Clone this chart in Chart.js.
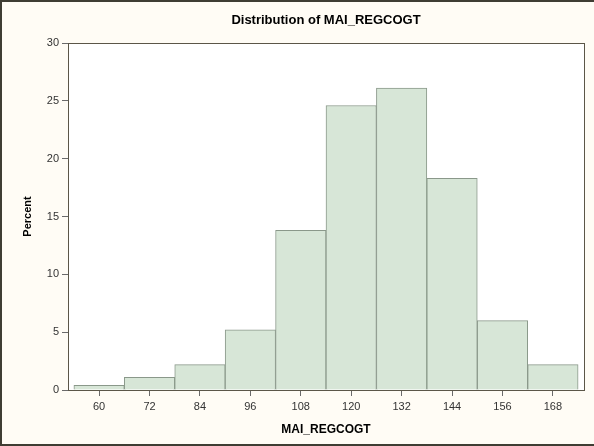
<!DOCTYPE html>
<html>
<head>
<meta charset="utf-8">
<script src="https://cdn.jsdelivr.net/npm/chart.js@4/dist/chart.umd.min.js"></script>
<style>
  html, body { margin: 0; padding: 0; background: #fffcf5; }
  #wrap { width: 594px; height: 446px; position: relative; }
</style>
</head>
<body>
<div id="wrap"><canvas id="c" width="594" height="446"></canvas></div>
<script>
// Histogram bins (midpoints) and the percent of observations in each bin
const binMidpoints = [60, 72, 84, 96, 108, 120, 132, 144, 156, 168];
const percentValues = [0.4, 1.1, 2.2, 5.2, 13.8, 24.6, 26.1, 18.3, 6.0, 2.2];
const xTickValues = [60, 72, 84, 96, 108, 120, 132, 144, 156, 168];
const yTickValues = [0, 5, 10, 15, 20, 25, 30];

const FONT = '"Liberation Sans", Arial, sans-serif';
const FRAME = '#5b5648';

// Cream page, white plot area, and the dark frames around both
const framePlugin = {
  id: 'frames',
  afterLayout(chart) {
    // centre the title over the plot area rather than the whole canvas
    const a = chart.chartArea;
    if (chart.titleBlock) {
      chart.titleBlock.left = a.left;
      chart.titleBlock.right = a.right;
    }
  },
  beforeDraw(chart) {
    const { ctx, chartArea: a, width, height } = chart;
    ctx.save();
    ctx.fillStyle = '#fffcf5';
    ctx.fillRect(0, 0, width, height);
    ctx.fillStyle = '#ffffff';
    ctx.fillRect(a.left, a.top, a.right - a.left, a.bottom - a.top);
    ctx.restore();
  },
  afterDraw(chart) {
    const { ctx, chartArea: a, width, height } = chart;
    ctx.save();
    ctx.strokeStyle = FRAME;
    ctx.lineWidth = 1;
    ctx.strokeRect(Math.round(a.left) + 0.5, Math.round(a.top) + 0.5,
                   Math.round(a.right - a.left), Math.round(a.bottom - a.top));
    ctx.strokeStyle = '#3f3d33';
    ctx.lineWidth = 2;
    ctx.beginPath();
    ctx.moveTo(1, height - 1);
    ctx.lineTo(1, 1);
    ctx.lineTo(width, 1);
    ctx.moveTo(0, height - 1);
    ctx.lineTo(width, height - 1);
    ctx.stroke();
    ctx.restore();
  }
};

new Chart(document.getElementById('c'), {
  type: 'bar',
  data: {
    datasets: [{
      label: 'Percent',
      data: binMidpoints.map((x, i) => ({ x: x, y: percentValues[i] })),
      backgroundColor: '#d7e6d7',
      borderColor: '#8a988a',
      borderWidth: 1,
      barPercentage: 1,
      categoryPercentage: 1
    }]
  },
  options: {
    responsive: false,
    devicePixelRatio: 1,
    animation: false,
    layout: { padding: { left: 0, right: 10, top: 0, bottom: 0 } },
    plugins: {
      legend: { display: false },
      tooltip: { enabled: false },
      title: {
        display: true,
        text: 'Distribution of MAI_REGCOGT',
        color: '#000000',
        font: { family: FONT, size: 13, weight: 'bold' },
        padding: { top: 12.5, bottom: 14.9 }
      }
    },
    scales: {
      x: {
        type: 'linear',
        offset: false,
        min: 52.6,
        max: 175.4,
        afterBuildTicks: s => { s.ticks = xTickValues.map(v => ({ value: v })); },
        afterFit: s => { s.height = 56; },
        border: { display: true, color: FRAME, width: 1 },
        grid: { offset: false, drawOnChartArea: false, drawTicks: true, tickLength: 6, color: '#6a6a6a' },
        ticks: { color: '#333333', font: { family: FONT, size: 11 }, padding: 4, maxRotation: 0 },
        title: {
          display: true,
          text: 'MAI_REGCOGT',
          color: '#000000',
          font: { family: FONT, size: 12, weight: 'bold' },
          padding: { top: 4, bottom: 9 }
        }
      },
      y: {
        min: 0,
        max: 30,
        afterBuildTicks: s => { s.ticks = yTickValues.map(v => ({ value: v })); },
        afterFit: s => { s.width = 68; },
        border: { display: true, color: FRAME, width: 1 },
        grid: { drawOnChartArea: false, drawTicks: true, tickLength: 6, color: '#6a6a6a' },
        ticks: { color: '#333333', font: { family: FONT, size: 11 }, padding: 3 },
        title: {
          display: true,
          text: 'Percent',
          color: '#000000',
          font: { family: FONT, size: 11, weight: 'bold' },
          padding: { top: 21, bottom: 0 }
        }
      }
    }
  },
  plugins: [framePlugin]
});
</script>
</body>
</html>
